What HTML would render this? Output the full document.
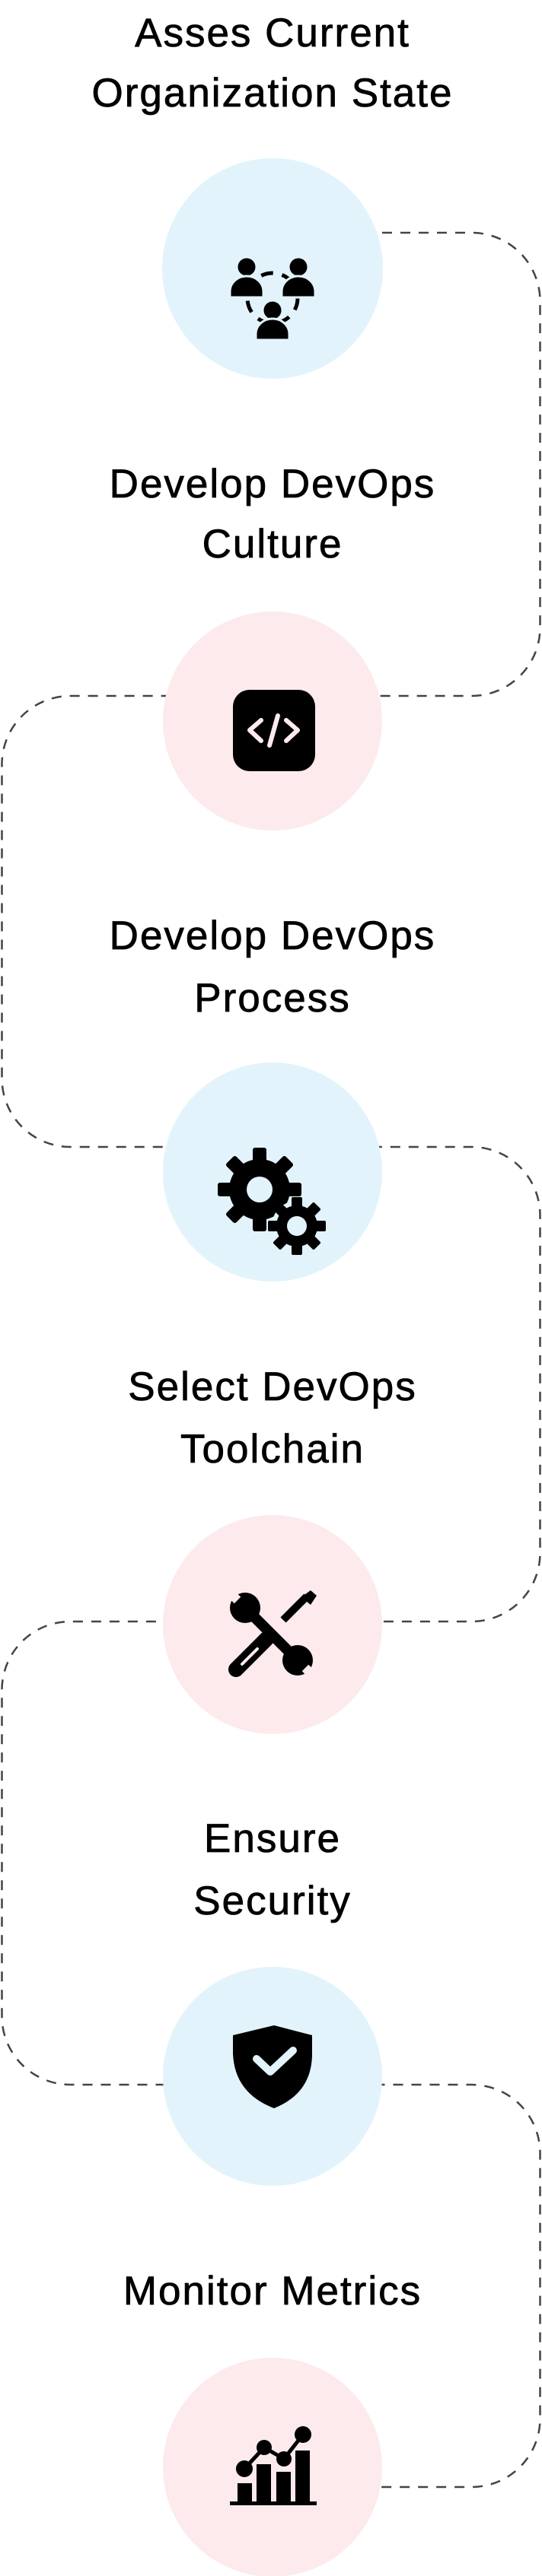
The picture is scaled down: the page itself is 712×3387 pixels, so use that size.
<!DOCTYPE html>
<html><head><meta charset="utf-8"><style>
html,body{margin:0;padding:0;background:#fff;}
svg{display:block}
text{font-family:"Liberation Sans",sans-serif;font-size:53px;fill:#000;text-anchor:middle;letter-spacing:2px;stroke:#000;stroke-width:0.8px}
</style></head><body>
<svg width="712" height="3387" viewBox="0 0 712 3387" xmlns="http://www.w3.org/2000/svg">
<path d="M358,306 H619.5 A90,90 0 0 1 709.5,396 V825 A90,90 0 0 1 619.5,915 H92.5 A90,90 0 0 0 2.5,1005 V1418 A90,90 0 0 0 92.5,1508 H619.5 A90,90 0 0 1 709.5,1598 V2042 A90,90 0 0 1 619.5,2132 H92.5 A90,90 0 0 0 2.5,2222 V2651 A90,90 0 0 0 92.5,2741 H619.5 A90,90 0 0 1 709.5,2831 V3180 A90,90 0 0 1 619.5,3270 H358" fill="none" stroke="#444" stroke-width="2.5" stroke-dasharray="13 11"/>

<circle cx="358" cy="353" r="145" fill="#e2f3fb"/>
<circle cx="358" cy="948" r="144" fill="#fdeaed"/>
<circle cx="358" cy="1541" r="144" fill="#e2f3fb"/>
<circle cx="358" cy="2136" r="144" fill="#fdeaed"/>
<circle cx="358" cy="2730" r="144" fill="#e2f3fb"/>
<circle cx="358" cy="3244" r="144" fill="#fdeaed"/>

<text x="358" y="61">Asses Current</text>
<text x="358" y="140">Organization State</text>
<text x="358" y="654">Develop DevOps</text>
<text x="358" y="733">Culture</text>
<text x="358" y="1248">Develop DevOps</text>
<text x="358" y="1330">Process</text>
<text x="358" y="1841">Select DevOps</text>
<text x="358" y="1923">Toolchain</text>
<text x="358" y="2435">Ensure</text>
<text x="358" y="2517">Security</text>
<text x="358" y="3030">Monitor Metrics</text>

<g fill="#000">
<circle cx="358" cy="392" r="33" fill="none" stroke="#000" stroke-width="5" stroke-dasharray="16 12"/>
<circle cx="324" cy="351" r="13" stroke="#e2f3fb" stroke-width="3"/>
<path d="M302,391 V383 A22,20 0 0 1 346,383 V391 Z" stroke="#e2f3fb" stroke-width="3"/>
<circle cx="392" cy="351" r="13" stroke="#e2f3fb" stroke-width="3"/>
<path d="M370,391 V383 A22,20 0 0 1 414,383 V391 Z" stroke="#e2f3fb" stroke-width="3"/>
<circle cx="358" cy="408" r="13" stroke="#e2f3fb" stroke-width="3"/>
<path d="M336,447 V439 A22,20 0 0 1 380,439 V447 Z" stroke="#e2f3fb" stroke-width="3"/>
</g>

<rect x="306" y="907" width="108" height="107" rx="22" fill="#000"/>
<g fill="none" stroke="#fdeaed" stroke-width="6" stroke-linecap="round" stroke-linejoin="round">
<polyline points="343,947 328,960 343,974"/>
<polyline points="376,947 391,960 376,974"/>
<line x1="365" y1="941" x2="354" y2="980"/>
</g>

<g fill="#000">
<g transform="translate(341,1564)">
<circle r="40"/>
<rect x="-9" y="-55" width="18" height="22" rx="3"/>
<rect x="-9" y="-55" width="18" height="22" rx="3" transform="rotate(45)"/>
<rect x="-9" y="-55" width="18" height="22" rx="3" transform="rotate(90)"/>
<rect x="-9" y="-55" width="18" height="22" rx="3" transform="rotate(135)"/>
<rect x="-9" y="-55" width="18" height="22" rx="3" transform="rotate(180)"/>
<rect x="-9" y="-55" width="18" height="22" rx="3" transform="rotate(225)"/>
<rect x="-9" y="-55" width="18" height="22" rx="3" transform="rotate(270)"/>
<rect x="-9" y="-55" width="18" height="22" rx="3" transform="rotate(315)"/>
<circle r="17" fill="#e2f3fb"/>
</g>
<g transform="translate(390,1612)">
<circle r="33" fill="#e2f3fb"/>
<circle r="27"/>
<rect x="-7" y="-38" width="14" height="16" rx="2"/>
<rect x="-7" y="-38" width="14" height="16" rx="2" transform="rotate(45)"/>
<rect x="-7" y="-38" width="14" height="16" rx="2" transform="rotate(90)"/>
<rect x="-7" y="-38" width="14" height="16" rx="2" transform="rotate(135)"/>
<rect x="-7" y="-38" width="14" height="16" rx="2" transform="rotate(180)"/>
<rect x="-7" y="-38" width="14" height="16" rx="2" transform="rotate(225)"/>
<rect x="-7" y="-38" width="14" height="16" rx="2" transform="rotate(270)"/>
<rect x="-7" y="-38" width="14" height="16" rx="2" transform="rotate(315)"/>
<circle r="13" fill="#e2f3fb"/>
</g>
</g>

<g>
<line x1="372" y1="2130" x2="403" y2="2099" stroke="#000" stroke-width="10"/>
<polygon points="396,2100 408,2091 416,2098 408,2110" fill="#000"/>
<line x1="310" y1="2195" x2="350" y2="2155" stroke="#000" stroke-width="20" stroke-linecap="round"/>
<line x1="318" y1="2188" x2="338" y2="2168" stroke="#fdeaed" stroke-width="4" stroke-linecap="round"/>
<line x1="322" y1="2114" x2="391" y2="2183" stroke="#000" stroke-width="14"/>
<circle cx="322" cy="2114" r="20" fill="#000"/>
<circle cx="391" cy="2183" r="20" fill="#000"/>
<line x1="312" y1="2104" x2="302" y2="2094" stroke="#fdeaed" stroke-width="12"/>
<line x1="401" y1="2193" x2="411" y2="2203" stroke="#fdeaed" stroke-width="12"/>
</g>

<path d="M360,2663 L410,2676 V2700 Q410,2752 360,2772 Q308,2752 306,2700 V2676 Z" fill="#000"/>
<polyline points="337,2707 355,2724 385,2696" fill="none" stroke="#e2f3fb" stroke-width="10" stroke-linecap="round" stroke-linejoin="round"/>

<g fill="#000">
<rect x="302" y="3289" width="114" height="5"/>
<rect x="312" y="3265" width="19" height="26"/>
<rect x="337" y="3240" width="19" height="51"/>
<rect x="363" y="3250" width="19" height="41"/>
<rect x="388" y="3222" width="19" height="69"/>
<polyline points="321,3246 347,3218 373,3233 398,3201" fill="none" stroke="#000" stroke-width="5"/>
<circle cx="321" cy="3246" r="11"/>
<circle cx="347" cy="3218" r="10"/>
<circle cx="373" cy="3233" r="10"/>
<circle cx="398" cy="3201" r="11"/>
</g>
</svg>
</body></html>
